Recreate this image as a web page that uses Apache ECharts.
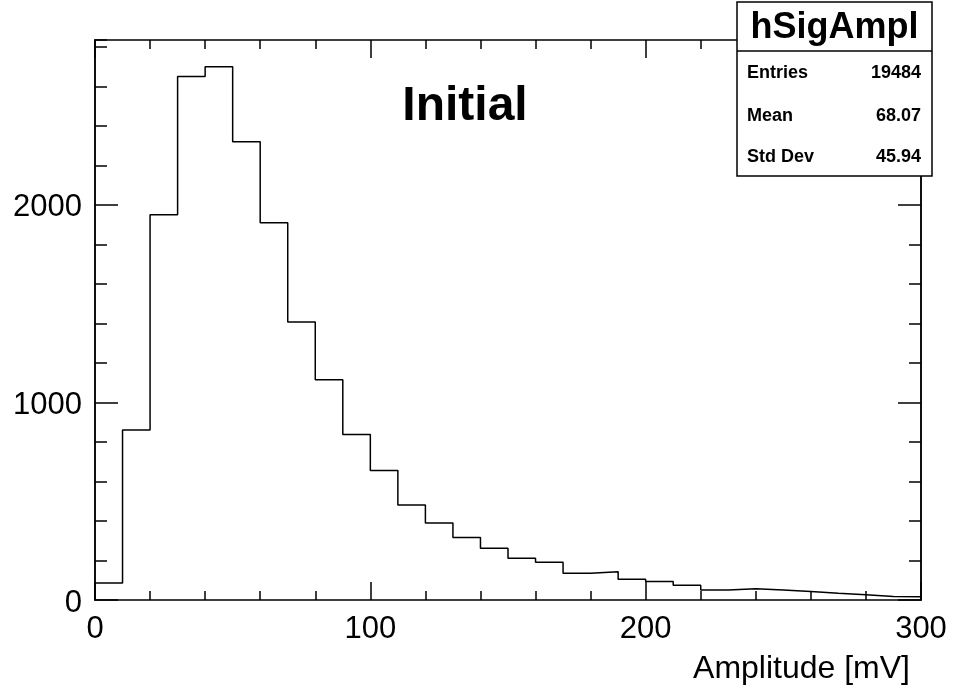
<!DOCTYPE html>
<html>
<head>
<meta charset="utf-8">
<script src="https://cdn.jsdelivr.net/npm/echarts@6/dist/echarts.min.js"></script>
<style>
html, body { margin: 0; padding: 0; background: #fff; }
#chart { width: 955px; height: 686px; }
</style>
</head>
<body>
<div id="chart"></div>
<script>
// hSigAmpl: signal amplitude distribution, 30 bins of 10 mV each
const binLowEdges = [0, 10, 20, 30, 40, 50, 60, 70, 80, 90,
                     100, 110, 120, 130, 140, 150, 160, 170, 180, 190,
                     200, 210, 220, 230, 240, 250, 260, 270, 280, 290];
const binWidth = 10;
const counts = [86, 860, 1950, 2650, 2700, 2320, 1910, 1407, 1115, 838,
                655, 481, 390, 316, 262, 211, 191, 136, 143, 105,
                94, 75, 50, 57, 50, 43, 34, 26, 18, 16];

const xTickLabels = [0, 100, 200, 300];
const yTickLabels = [0, 1000, 2000];
const yMinorStep = 200;

const histName = 'hSigAmpl';
const statsLabels = ['Entries', 'Mean', 'Std Dev'];
const statsValues = ['19484', '68.07', '45.94'];
const padLabel = 'Initial';
const xTitle = 'Amplitude [mV]';

const FONT = '"Liberation Sans", Arial, Helvetica, sans-serif';
const INK = '#000';

// step outline: one point per bin low edge, closing at the upper edge of the last bin
const lastIdx = binLowEdges.length - 1;
const stepPoints = binLowEdges.map((x, i) => [x, counts[i]]);
stepPoints.push([binLowEdges[lastIdx] + binWidth, counts[lastIdx]]);

const xMin = xTickLabels[0];
const xMax = xTickLabels[xTickLabels.length - 1];
const xMajor = xTickLabels[1] - xTickLabels[0];
const yMajor = yTickLabels[1] - yTickLabels[0];
const yMax = Math.max(...counts) * 1.05;

const lineStyle = { color: INK, width: 1.5 };

function xAxisDef(position, showLabels) {
  return {
    type: 'value', position: position, min: xMin, max: xMax, interval: xMajor,
    axisLine: { show: true, onZero: false, lineStyle: lineStyle },
    axisTick: { show: true, inside: true, length: 18, lineStyle: lineStyle },
    minorTick: { show: true, splitNumber: 5, length: 9, lineStyle: lineStyle },
    splitLine: { show: false }, minorSplitLine: { show: false },
    axisLabel: {
      show: showLabels, color: INK, fontFamily: FONT, fontSize: 31, margin: 14,
      showMinLabel: true, showMaxLabel: true
    }
  };
}

function yAxisDef(position, step, tickLen, showLabels) {
  return {
    type: 'value', position: position, min: 0, max: yMax, interval: step,
    axisLine: { show: true, onZero: false, lineStyle: lineStyle },
    axisTick: { show: true, inside: true, length: tickLen, lineStyle: lineStyle },
    splitLine: { show: false },
    axisLabel: {
      show: showLabels, color: INK, fontFamily: FONT, fontSize: 31, margin: 13,
      showMaxLabel: false,
      formatter: v => (yTickLabels.indexOf(v) >= 0 ? '{n|' + v + '}' : ''),
      rich: { n: { color: INK, fontFamily: FONT, fontSize: 31, padding: [6, 0, 0, 0] } }
    }
  };
}

// statistics box
const boxX = 737, boxY = 2, boxW = 195, boxH = 174, boxDiv = 51;
const rowY = [73, 116, 157];
const statsGraphics = [
  { type: 'rect', z: 100, shape: { x: boxX, y: boxY, width: boxW, height: boxH },
    style: { fill: '#fff', stroke: INK, lineWidth: 1.5 } },
  { type: 'line', z: 101, shape: { x1: boxX, y1: boxDiv, x2: boxX + boxW, y2: boxDiv },
    style: { stroke: INK, lineWidth: 1.5 } },
  { type: 'text', z: 101, x: boxX + boxW / 2, y: 28,
    style: { text: histName, fill: INK, font: 'bold 36px ' + FONT,
             textAlign: 'center', textVerticalAlign: 'middle' } }
];
statsLabels.forEach((lab, i) => {
  statsGraphics.push({ type: 'text', z: 101, x: boxX + 10, y: rowY[i],
    style: { text: lab, fill: INK, font: 'bold 18px ' + FONT,
             textAlign: 'left', textVerticalAlign: 'middle' } });
  statsGraphics.push({ type: 'text', z: 101, x: boxX + boxW - 11, y: rowY[i],
    style: { text: statsValues[i], fill: INK, font: 'bold 18px ' + FONT,
             textAlign: 'right', textVerticalAlign: 'middle' } });
});

const chart = echarts.init(document.getElementById('chart'), null, { renderer: 'canvas' });
chart.setOption({
  animation: false,
  backgroundColor: '#fff',
  grid: { left: 95, right: 34, top: 40, bottom: 86, containLabel: false, outerBoundsMode: 'none' },
  xAxis: [xAxisDef('bottom', true), xAxisDef('top', false)],
  yAxis: [
    yAxisDef('left', yMajor, 23, true),
    yAxisDef('left', yMinorStep, 12, false),
    yAxisDef('right', yMajor, 23, false),
    yAxisDef('right', yMinorStep, 12, false)
  ],
  series: [{
    name: histName, type: 'line', step: 'end', data: stepPoints,
    xAxisIndex: 0, yAxisIndex: 0, symbol: 'none', showSymbol: false,
    lineStyle: { color: INK, width: 1.5 }, z: 5
  }],
  graphic: [
    { type: 'text', z: 50, x: 465, y: 107,
      style: { text: padLabel, fill: INK, font: 'bold 48px ' + FONT,
               textAlign: 'center', textVerticalAlign: 'middle' } },
    { type: 'text', z: 50, x: 910, y: 669,
      style: { text: xTitle, fill: INK, font: '32px ' + FONT,
               textAlign: 'right', textVerticalAlign: 'middle' } }
  ].concat(statsGraphics)
});
</script>
</body>
</html>
